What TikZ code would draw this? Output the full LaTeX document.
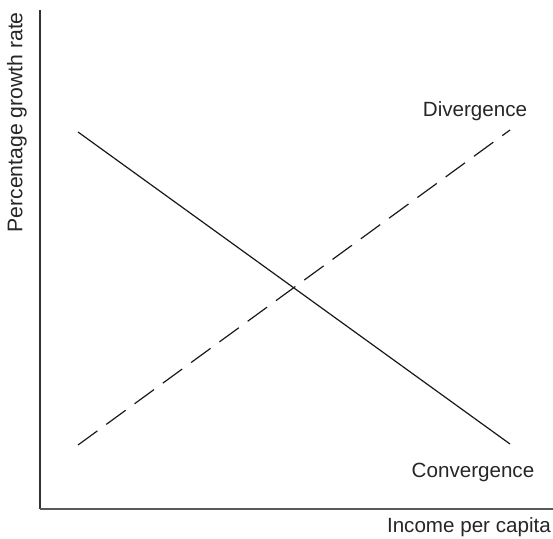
\documentclass[tikz,border=0pt]{standalone}
\usepackage{fontspec}
\setmainfont{Liberation Sans}
\begin{document}
\begin{tikzpicture}[x=1pt,y=-1pt,
  lbl/.style={inner sep=0pt,font=\fontsize{20.6}{24}\selectfont,text=black!85},
  axis/.style={line width=1.4pt,draw=black!80},
  curve/.style={line width=1.2pt,draw=black!90}]
\useasboundingbox (0,0) rectangle (553,538);
% axes
\coordinate (ytop) at (40,10);
\coordinate (orig) at (40,509);
\coordinate (xend) at (553,509);
\draw[axis] (ytop) -- (orig);
\draw[axis,draw=black!65] (orig) -- (xend);
% curves
\coordinate (c1) at (78,132);
\coordinate (c2) at (510,444);
\coordinate (d1) at (78,445);
\coordinate (d2) at (510,130);
\draw[curve] (c1) -- (c2);
\draw[curve,dash pattern=on 24pt off 11pt] (d1) -- (d2);
% labels
\node[lbl] (div) at (475,111) {Divergence};
\node[lbl] (conv) at (473,472) {Convergence};
\node[lbl,anchor=east] (xlab) at (551,527) {Income per capita};
\node[lbl,font=\fontsize{21.2}{24}\selectfont,rotate=90,anchor=east] (ylab) at (17,12) {Percentage growth rate};
\end{tikzpicture}
\end{document}
